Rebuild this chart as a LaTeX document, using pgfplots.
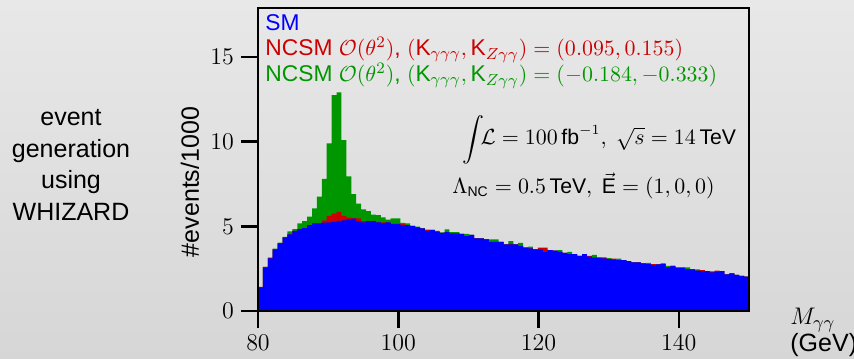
\documentclass[border=0pt]{standalone}
\usepackage{pgfplots}
\pgfplotsset{compat=1.18}
\usepackage{pgfplotstable}
\usepackage{amsmath}
\usepackage{fontspec}
\setmainfont{Liberation Sans}
\definecolor{ncred}{RGB}{204,0,0}
\definecolor{ncgreen}{RGB}{0,150,0}
\definecolor{smblue}{RGB}{0,0,255}
\pgfplotstableread{
x sm r g
80.0 1.40 1.43 1.40
80.7 2.58 2.60 2.60
81.4 3.11 3.16 3.14
82.1 3.64 3.64 3.68
82.8 4.00 4.00 4.04
83.5 4.35 4.35 4.38
84.2 4.53 4.53 4.70
84.9 4.74 4.74 4.84
85.6 4.84 4.84 5.18
86.3 4.90 4.90 5.31
87.0 5.08 5.08 5.57
87.7 5.18 5.18 6.06
88.4 5.18 5.18 6.75
89.1 5.22 5.35 7.80
89.8 5.24 5.62 9.90
90.5 5.27 5.75 12.75
91.2 5.33 5.85 12.91
91.9 5.35 5.62 10.10
92.6 5.41 5.52 7.95
93.3 5.45 5.48 6.90
94.0 5.31 5.47 6.35
94.7 5.24 5.31 6.00
95.4 5.31 5.31 5.90
96.1 5.31 5.31 5.70
96.8 5.24 5.24 5.67
97.5 5.18 5.24 5.53
98.2 5.24 5.24 5.40
98.9 5.14 5.14 5.47
99.6 5.14 5.14 5.47
100.3 5.08 5.14 5.20
101.0 5.08 5.08 5.18
101.7 5.02 5.02 5.05
102.4 4.94 4.94 4.98
103.1 4.88 4.88 4.90
103.8 4.74 4.80 4.76
104.5 4.78 4.78 4.80
105.2 4.68 4.74 4.70
105.9 4.62 4.62 4.64
106.6 4.66 4.66 4.82
107.3 4.59 4.59 4.66
108.0 4.59 4.59 4.66
108.7 4.55 4.55 4.56
109.4 4.43 4.43 4.55
110.1 4.49 4.49 4.49
110.8 4.29 4.29 4.30
111.5 4.29 4.29 4.29
112.2 4.23 4.23 4.25
112.9 4.09 4.09 4.23
113.6 4.09 4.09 4.23
114.3 4.09 4.09 4.09
115.0 3.94 3.94 3.94
115.7 3.94 3.98 4.13
116.4 3.94 3.94 3.94
117.1 3.84 3.84 4.03
117.8 3.74 3.74 3.76
118.5 3.70 3.70 3.80
119.2 3.64 3.64 3.64
119.9 3.64 3.74 3.64
120.6 3.50 3.74 3.50
121.3 3.60 3.60 3.60
122.0 3.56 3.56 3.56
122.7 3.50 3.50 3.60
123.4 3.44 3.44 3.44
124.1 3.36 3.36 3.50
124.8 3.36 3.36 3.36
125.5 3.26 3.26 3.26
126.2 3.36 3.36 3.36
126.9 3.21 3.26 3.21
127.6 3.15 3.15 3.31
128.3 3.15 3.15 3.15
129.0 3.11 3.17 3.11
129.7 3.07 3.07 3.13
130.4 3.03 3.09 3.03
131.1 3.01 3.01 3.09
131.8 3.01 3.01 3.01
132.5 2.95 2.95 2.95
133.2 2.87 2.87 2.87
133.9 2.87 2.87 2.87
134.6 2.81 2.81 2.81
135.3 2.77 2.77 2.85
136.0 2.71 2.77 2.71
136.7 2.75 2.75 2.75
137.4 2.79 2.79 2.81
138.1 2.58 2.58 2.67
138.8 2.66 2.66 2.66
139.5 2.56 2.56 2.56
140.2 2.56 2.56 2.56
140.9 2.46 2.46 2.58
141.6 2.46 2.46 2.46
142.3 2.38 2.38 2.46
143.0 2.36 2.42 2.36
143.7 2.36 2.36 2.36
144.4 2.28 2.34 2.28
145.1 2.32 2.38 2.32
145.8 2.36 2.36 2.36
146.5 2.17 2.17 2.17
147.2 2.22 2.22 2.22
147.9 2.13 2.13 2.13
148.6 2.07 2.07 2.07
149.3 2.03 2.03 2.03
150.0 2.03 2.03 2.03
}\histdata
\newcommand\legfont{\fontsize{11.4}{13}\selectfont}
\newcommand\annfont{\fontsize{10.6}{13}\selectfont}
\newcommand\bigfont{\fontsize{12.5}{15.85}\selectfont}
\begin{document}
\begin{tikzpicture}
\shade[top color=gray!18, bottom color=gray!32] (0,0) rectangle (427pt,179pt);
\begin{axis}[
  at={(129pt,23.5pt)}, anchor=south west,
  scale only axis, width=245.5pt, height=151.5pt,
  xmin=80, xmax=150, ymin=0, ymax=17.9,
  xtick={80,100,120,140}, ytick={0,5,10,15},
  tick pos=left, tick align=outside, major tick length=8.5pt,
  minor tick num=0,
  axis line style={line width=1.4pt},
  tick style={black, line width=1.3pt},
  ticklabel style={font=\fontsize{12.5}{14}\selectfont},
  axis on top,
]
\addplot[const plot mark left, fill=ncgreen, draw=none] table[x=x,y=g] {\histdata} \closedcycle;
\addplot[const plot mark left, fill=ncred, draw=none] table[x=x,y=r] {\histdata} \closedcycle;
\addplot[const plot mark left, fill=smblue, draw=none] table[x=x,y=sm] {\histdata} \closedcycle;
\end{axis}
% axis label
\node[rotate=90, anchor=center, font=\bigfont] at (95pt,88pt) {\#events/1000};
% left note
\node[align=center, font=\bigfont, anchor=center] at (35.5pt,96.5pt) {event\\generation\\using\\WHIZARD};
% x label
\node[anchor=base west, inner sep=0, font=\bigfont] at (395pt,16.5pt) {$M_{\gamma\gamma}$};
\node[anchor=base west, inner sep=0, font=\bigfont] at (395pt,3.5pt) {(GeV)};
% legend
\node[anchor=base west, inner sep=0, text=smblue] at (132.5pt,163.6pt) {\legfont SM};
\node[anchor=base west, inner sep=0, text=ncred] at (132.5pt,151.15pt) {\legfont NCSM $\mathcal{O}(\theta^2)$, $(\mbox{K}_{\gamma\gamma\gamma},\mbox{K}_{Z\gamma\gamma})=(0.095,0.155)$};
\node[anchor=base west, inner sep=0, text=ncgreen] at (132.5pt,138.15pt) {\legfont NCSM $\mathcal{O}(\theta^2)$, $(\mbox{K}_{\gamma\gamma\gamma},\mbox{K}_{Z\gamma\gamma})=(-0.184,-0.333)$};
% annotations
\node[anchor=base west, inner sep=0] at (231pt,106.5pt) {\annfont $\smash{\displaystyle\int}\!\mathcal{L}=100\,\mbox{fb}^{-1},\ \sqrt{s}=14\,\mbox{TeV}$};
\node[anchor=base west, inner sep=0] at (226pt,82.2pt) {\annfont $\Lambda_{\mbox{\scriptsize NC}}=0.5\,\mbox{TeV},\ \vec{\mbox{E}}=(1,0,0)$};
\pgfresetboundingbox
\useasboundingbox (0,0) rectangle (427pt,179pt);
\end{tikzpicture}
\end{document}
